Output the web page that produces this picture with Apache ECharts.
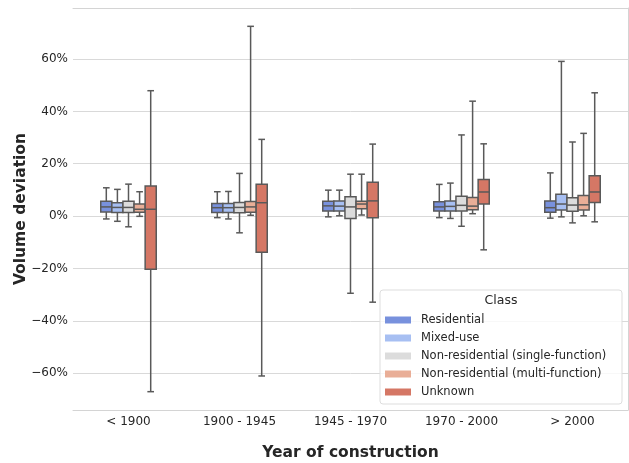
<!DOCTYPE html>
<html>
<head>
<meta charset="utf-8">
<script src="https://cdn.jsdelivr.net/npm/echarts@6/dist/echarts.min.js"></script>
<style>
html,body{margin:0;padding:0;background:#fff;}
#chart{width:629px;height:463px;}
</style>
</head>
<body>
<div id="chart"></div>
<script>
// Categories (x axis) and classes (series)
const categories = ['< 1900', '1900 - 1945', '1945 - 1970', '1970 - 2000', '> 2000'];
const classes = ['Residential', 'Mixed-use', 'Non-residential (single-function)', 'Non-residential (multi-function)', 'Unknown'];
const classColors = ['#7891dd', '#a7bff2', '#dcdcdc', '#e9ae97', '#d57765'];
const yTickValues = [-60, -40, -20, 0, 20, 40, 60];

// Box statistics per category: [lower whisker, Q1, median, Q3, upper whisker] in %
const residential = [
  [-1.1, 1.6, 3.5, 5.7, 10.8],
  [-0.6, 1.4, 3.2, 4.8, 9.3],
  [-0.3, 1.9, 3.9, 5.7, 9.9],
  [-0.6, 1.9, 3.5, 5.5, 12.1],
  [-0.8, 1.5, 3.2, 5.8, 16.5]
];
const mixedUse = [
  [-2.0, 1.4, 3.3, 5.1, 10.2],
  [-1.1, 1.4, 3.2, 4.8, 9.4],
  [0.1, 1.9, 3.8, 5.8, 9.9],
  [-0.9, 1.9, 3.7, 5.8, 12.6],
  [-0.3, 2.3, 4.6, 8.3, 59.1]
];
const nonResSingle = [
  [-4.1, 1.4, 3.3, 5.7, 12.2],
  [-6.4, 1.3, 3.3, 5.2, 16.3],
  [-29.5, -0.9, 3.5, 7.4, 16.0],
  [-3.9, 1.9, 4.1, 7.6, 31.0],
  [-2.6, 1.8, 4.2, 7.0, 28.3]
];
const nonResMulti = [
  [-0.1, 1.5, 2.6, 4.6, 9.3],
  [0.3, 1.5, 3.5, 5.6, 72.5],
  [0.4, 2.8, 4.6, 5.7, 16.0],
  [0.9, 2.4, 3.8, 7.1, 43.9],
  [0.1, 2.3, 4.3, 7.9, 31.6]
];
const unknown = [
  [-67.1, -20.3, 2.6, 11.5, 47.9],
  [-61.1, -13.8, 5.1, 12.2, 29.3],
  [-32.9, -0.6, 5.8, 12.9, 27.5],
  [-12.9, 4.6, 9.2, 14.0, 27.6],
  [-2.2, 5.2, 9.2, 15.4, 47.1]
];
const classData = [residential, mixedUse, nonResSingle, nonResMulti, unknown];

const LINE = '#595959';
const FONT = 'DejaVu Sans';
const TXT = '#262626';
const SPINE = '#d4d4d4';

function makeRender(k) {
  return function (params, api) {
    const ci = api.value(0);
    const band = api.size([1, 0])[0];
    const w = band * 0.1;
    const cx = api.coord([ci, 0])[0] + (k - 2) * w;
    const yLow = api.coord([ci, api.value(1)])[1];
    const yQ1 = api.coord([ci, api.value(2)])[1];
    const yMed = api.coord([ci, api.value(3)])[1];
    const yQ3 = api.coord([ci, api.value(4)])[1];
    const yHigh = api.coord([ci, api.value(5)])[1];
    const cap = w * 0.3;
    const ls = { stroke: LINE, lineWidth: 1.5, fill: null };
    return {
      type: 'group',
      children: [
        { type: 'line', shape: { x1: cx, y1: yQ3, x2: cx, y2: yHigh }, style: ls },
        { type: 'line', shape: { x1: cx, y1: yQ1, x2: cx, y2: yLow }, style: ls },
        { type: 'line', shape: { x1: cx - cap, y1: yHigh, x2: cx + cap, y2: yHigh }, style: ls },
        { type: 'line', shape: { x1: cx - cap, y1: yLow, x2: cx + cap, y2: yLow }, style: ls },
        { type: 'rect', shape: { x: cx - w / 2, y: yQ3, width: w, height: yQ1 - yQ3 },
          style: { fill: classColors[k], stroke: LINE, lineWidth: 1.5 } },
        { type: 'line', shape: { x1: cx - w / 2, y1: yMed, x2: cx + w / 2, y2: yMed }, style: ls }
      ]
    };
  };
}

const series = classes.map(function (name, k) {
  return {
    name: name,
    type: 'custom',
    xAxisIndex: 0,
    yAxisIndex: 0,
    itemStyle: { color: classColors[k] },
    renderItem: makeRender(k),
    encode: { x: 0, y: [1, 2, 3, 4, 5] },
    data: classData[k].map(function (v, i) { return [i].concat(v); }),
    z: 3
  };
});

const chart = echarts.init(document.getElementById('chart'), null, { renderer: 'canvas' });
chart.setOption({
  animation: false,
  backgroundColor: '#ffffff',
  grid: { left: 73, right: 1, top: 8, bottom: 53, containLabel: false, outerBoundsMode: 'none', show: false },
  xAxis: [{
    type: 'category',
    data: categories,
    position: 'bottom',
    name: 'Year of construction',
    nameLocation: 'middle',
    nameGap: 35,
    nameMoveOverlap: false,
    nameTextStyle: { fontFamily: FONT, fontSize: 15.5, fontWeight: 'bold', color: TXT },
    axisLine: { show: true, onZero: false, lineStyle: { color: SPINE, width: 1 } },
    axisTick: { show: false },
    axisLabel: { fontFamily: FONT, fontSize: 12, color: TXT, margin: 6 },
    splitLine: { show: false },
    splitArea: { show: false }
  }, {
    type: 'category',
    data: categories,
    position: 'top',
    axisLine: { show: true, onZero: false, lineStyle: { color: SPINE, width: 1 } },
    axisTick: { show: false },
    axisLabel: { show: false },
    splitLine: { show: false },
    splitArea: { show: false }
  }],
  yAxis: [{
    type: 'value',
    min: -74.1,
    max: 79.5,
    position: 'left',
    name: 'Volume deviation',
    nameLocation: 'middle',
    nameGap: 44,
    nameMoveOverlap: false,
    nameTextStyle: { fontFamily: FONT, fontSize: 15.5, fontWeight: 'bold', color: TXT },
    axisLine: { show: false },
    axisTick: { show: false, customValues: yTickValues },
    axisLabel: {
      fontFamily: FONT, fontSize: 12, color: TXT, margin: 5,
      customValues: yTickValues,
      formatter: function (v) { return (v < 0 ? '\u2212' + Math.abs(v) : v) + '%'; }
    },
    splitLine: { show: true, lineStyle: { color: '#d9d9d9', width: 1 } }
  }, {
    type: 'value',
    min: -74.1,
    max: 79.5,
    position: 'right',
    axisLine: { show: true, lineStyle: { color: SPINE, width: 1 } },
    axisTick: { show: false },
    axisLabel: { show: false },
    splitLine: { show: false }
  }],
  legend: {
    orient: 'vertical',
    left: 385,
    top: 313,
    padding: 0,
    itemWidth: 26,
    itemHeight: 7,
    itemGap: 4,
    selectedMode: false,
    data: classes.map(function (n) { return { name: n, icon: 'rect' }; }),
    textStyle: { fontFamily: FONT, fontSize: 11.5, color: TXT, lineHeight: 14, padding: [0, 0, 0, 5] },
    z: 20
  },
  graphic: [{
    type: 'rect',
    shape: { x: 380, y: 290, width: 242, height: 114, r: 3 },
    style: { fill: 'rgba(255,255,255,0.8)', stroke: '#dddddd', lineWidth: 1 },
    z: 10
  }, {
    type: 'text',
    x: 501,
    y: 301,
    style: { text: 'Class', fontFamily: FONT, fontSize: 12.5, fill: TXT, align: 'center', verticalAlign: 'middle' },
    z: 11
  }],
  series: series
});
</script>
</body>
</html>
